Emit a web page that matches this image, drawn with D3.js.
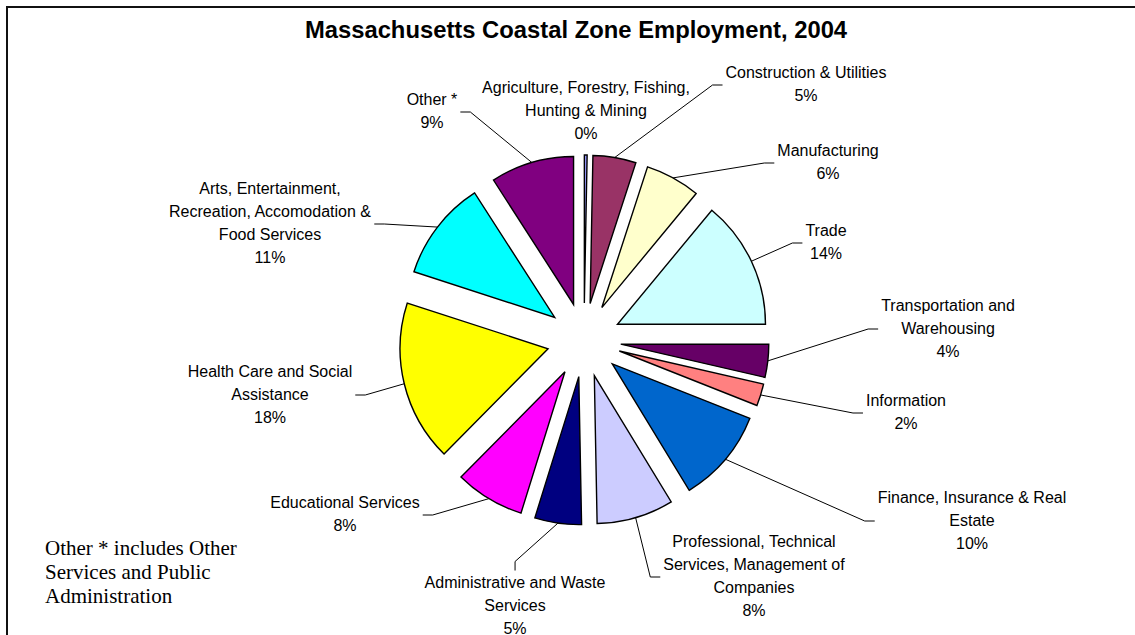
<!DOCTYPE html>
<html>
<head>
<meta charset="utf-8">
<script src="https://cdn.jsdelivr.net/npm/d3@7"></script>
<style>
  body { margin: 0; background: #fff; }
  svg { display: block; }
</style>
</head>
<body>
<svg id="chart" width="1135" height="635"></svg>
<script>
// categories (line breaks as in the chart labels)
const categories = [
  "Agriculture, Forestry, Fishing,\nHunting & Mining",
  "Construction & Utilities",
  "Manufacturing",
  "Trade",
  "Transportation and\nWarehousing",
  "Information",
  "Finance, Insurance & Real\nEstate",
  "Professional, Technical\nServices, Management of\nCompanies",
  "Administrative and Waste\nServices",
  "Educational Services",
  "Health Care and Social\nAssistance",
  "Arts, Entertainment,\nRecreation, Accomodation &\nFood Services",
  "Other *"
];
// share of coastal zone employment, percent
const shares = [0.3, 4.7, 6.0, 14.0, 3.6, 2.4, 10.3, 8.4, 5.1, 7.6, 17.6, 10.9, 9.1];
const colors = ["#9999FF", "#993366", "#FFFFCC", "#CCFFFF", "#660066", "#FF8080",
                "#0066CC", "#CCCCFF", "#000080", "#FF00FF", "#FFFF00", "#00FFFF", "#800080"];

// where each label block sits (centre x, middle y) and which side its leader comes in
const labelAt = [
  [586, 110, "none"], [806, 84, "right"], [828, 162, "right"], [826, 242, "right"],
  [948, 328, "right"], [906, 412, "right"], [972, 520, "right"], [754, 576, "right"],
  [515, 605, "top"], [345, 514, "left"], [270, 394, "left"], [270, 223, "left"],
  [432, 111, "left"]
];

const title = "Massachusetts Coastal Zone Employment, 2004";
const note = ["Other * includes Other", "Services and Public", "Administration"];

const svg = d3.select("#chart");
const cx = 584, cy = 340, radius = 148, explode = 37, lineH = 23;

// frame (only top and left edges show in the picture)
svg.append("path")
  .attr("d", "M7,640V7H1140")
  .attr("fill", "none")
  .attr("stroke", "#111")
  .attr("stroke-width", 2);

svg.append("text")
  .attr("x", 576).attr("y", 38)
  .attr("text-anchor", "middle")
  .style("font-family", "'Liberation Sans', Arial, sans-serif")
  .style("font-weight", "bold")
  .style("font-size", "23.8px")
  .text(title);

const rows = categories.map((c, i) => ({ name: c, value: shares[i], color: colors[i], pos: labelAt[i] }));
const total = d3.sum(shares);

const pie = d3.pie().sort(null).value(d => d.value);
const arc = d3.arc().innerRadius(0).outerRadius(radius);
const arcs = pie(rows);

function mid(d) { return (d.startAngle + d.endAngle) / 2; }
function shift(d) { const a = mid(d); return [Math.sin(a) * explode, -Math.cos(a) * explode]; }

const g = svg.append("g").attr("transform", `translate(${cx},${cy})`);

g.selectAll("path.slice")
  .data(arcs)
  .enter()
  .append("path")
  .attr("class", "slice")
  .attr("transform", d => `translate(${shift(d)})`)
  .attr("d", arc)
  .attr("fill", d => d.data.color)
  .attr("stroke", "#000")
  .attr("stroke-width", 1.4)
  .attr("stroke-linejoin", "miter");

// labels
const labels = svg.append("g")
  .selectAll("g")
  .data(arcs)
  .enter()
  .append("g");

labels.each(function(d) {
  const lines = d.data.name.split("\n").concat([Math.round(d.data.value / total * 100) + "%"]);
  const [lx, ly] = d.data.pos;
  const t = d3.select(this).append("text")
    .attr("text-anchor", "middle")
    .style("font-family", "'Liberation Sans', Arial, sans-serif")
    .style("font-size", "16px")
    .attr("fill", "#000");
  lines.forEach((s, i) => {
    t.append("tspan")
      .attr("x", lx)
      .attr("y", ly + (i - (lines.length - 1) / 2) * lineH + 5.5)
      .text(s);
  });
});

// leader lines from slice edge to label box
const leaders = svg.append("g");
labels.each(function(d) {
  const side = d.data.pos[2];
  if (side === "none") return;
  const box = this.getBBox();
  const a = mid(d), s = shift(d);
  const x0 = cx + s[0] + Math.sin(a) * radius;
  const y0 = cy + s[1] - Math.cos(a) * radius;
  let pts;
  if (side === "right") {
    const ym = box.y + box.height / 2 + 1;
    const xe = box.x - 3;
    pts = [[x0, y0], [xe - 10, ym], [xe, ym]];
  } else if (side === "left") {
    const ym = box.y + box.height / 2 + 1;
    const xe = box.x + box.width + 3;
    pts = [[x0, y0], [xe + 10, ym], [xe, ym]];
  } else {
    const xm = box.x + box.width / 2;
    const ye = box.y - 3;
    pts = [[x0, y0], [xm, ye - 9], [xm, ye]];
  }
  leaders.append("path")
    .attr("d", d3.line()(pts))
    .attr("fill", "none")
    .attr("stroke", "#000")
    .attr("stroke-width", 1);
});

// footnote
const nt = svg.append("text")
  .style("font-family", "'Liberation Serif', 'Times New Roman', serif")
  .style("font-size", "21px");
note.forEach((s, i) => {
  nt.append("tspan").attr("x", 45).attr("y", 555 + i * 24).text(s);
});
</script>
</body>
</html>
